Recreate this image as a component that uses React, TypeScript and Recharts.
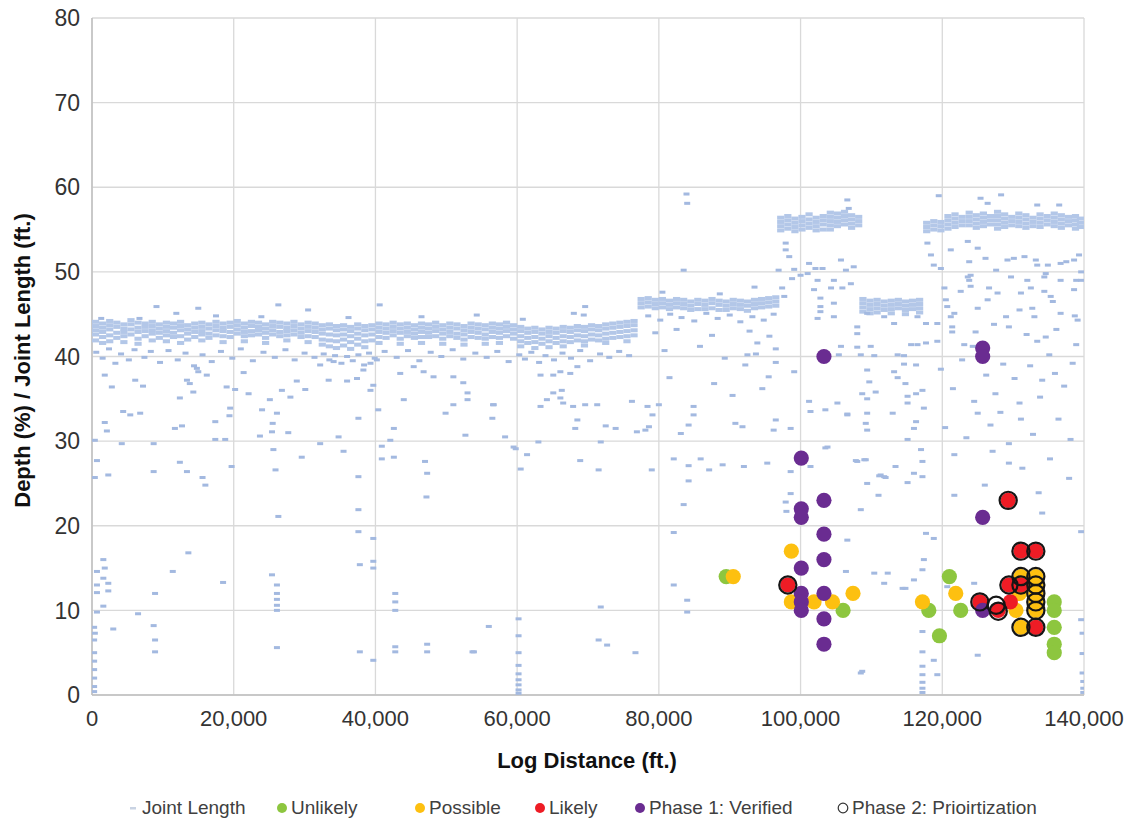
import React from 'react';
import { ScatterChart, Scatter, XAxis, YAxis, CartesianGrid, Legend } from 'recharts';

const X_TICKS = [0, 20000, 40000, 60000, 80000, 100000, 120000, 140000];
const Y_TICKS = [0, 10, 20, 30, 40, 50, 60, 70, 80];
const SERIES = ['Joint Length', 'Unlikely', 'Possible', 'Likely', 'Phase 1: Verified', 'Phase 2: Prioirtization'];
const X_TITLE = 'Log Distance (ft.)';
const Y_TITLE = 'Depth (%) / Joint Length (ft.)';

// Joint length dense bands: [log distance (kft), joint lengths]
const band1: [number, number[]][] = [
  [0.5,[44.1,43.6,43.1,42.6,41.9]],[1.5,[43.9,43.4,42.9,42.3,41.6]],[2.5,[44.2,43.7,43.2,42.5,41.8]],[3.5,[44.0,43.5,42.8,42.2]],
  [4.5,[43.8,43.3,42.9,42.4,41.7]],[5.5,[44.3,43.8,43.2,42.6]],[6.5,[44.0,43.4,42.9,42.1,41.5]],[7.5,[43.9,43.5,43.0,42.4]],
  [8.5,[44.1,43.6,43.1,42.7,41.9]],[9.5,[43.8,43.3,42.8,42.2]],[10.5,[44.0,43.5,43.0,42.5,41.8]],[11.5,[43.9,43.4,42.8,42.3]],
  [12.5,[44.1,43.6,43.1,42.4,41.6]],[13.5,[43.7,43.2,42.7,42.0]],[14.5,[43.9,43.4,42.9,42.3]],[15.5,[44.0,43.5,43.0,42.6,41.9]],
  [16.5,[43.8,43.3,42.7,42.2]],[17.5,[44.1,43.6,43.1,42.5]],[18.5,[43.9,43.4,43.0,42.4,41.7]],[19.5,[44.0,43.5,42.9,42.3]],
  [20.5,[44.2,43.7,43.2,42.7]],[21.5,[43.9,43.4,42.9,42.4,41.8]],[22.5,[44.1,43.6,43.0,42.5]],[23.5,[44.0,43.5,43.1,42.6]],
  [24.5,[43.8,43.3,42.8,42.2,41.6]],[25.5,[44.1,43.6,43.1,42.6]],[26.5,[44.0,43.5,42.9,42.4]],[27.5,[43.9,43.4,43.0,42.5,41.9]],
  [28.5,[44.1,43.6,43.1,42.6]],[29.5,[43.8,43.3,42.8,42.3]],[30.5,[44.0,43.5,43.0,42.4,41.7]],[31.5,[43.9,43.4,42.9,42.3]],
  [32.5,[43.7,43.2,42.7,42.0,41.4]],[33.5,[43.8,43.3,42.6,41.9,41.2]],[34.5,[43.6,43.1,42.5,41.8,41.0]],[35.5,[43.7,43.2,42.6,42.0,41.3]],
  [36.5,[43.5,43.0,42.4,41.7,40.9]],[37.5,[43.8,43.3,42.7,42.1,41.4]],[38.5,[43.6,43.1,42.5,41.8,41.1]],[39.5,[43.7,43.2,42.6,41.9]],
  [40.5,[43.9,43.4,42.9,42.3,41.6]],[41.5,[43.8,43.3,42.8,42.2]],[42.5,[44.0,43.5,43.0,42.5]],[43.5,[43.8,43.3,42.8,42.1,41.5]],
  [44.5,[43.9,43.4,42.9,42.4]],[45.5,[43.7,43.2,42.7,42.2]],[46.5,[43.9,43.4,42.9,42.3,41.6]],[47.5,[43.8,43.3,42.8,42.3]],
  [48.5,[44.0,43.5,43.0,42.4]],[49.5,[43.7,43.2,42.7,42.1,41.5]],[50.5,[43.9,43.4,42.9,42.4]],[51.5,[43.8,43.3,42.7,42.2]],
  [52.5,[43.6,43.1,42.6,42.0,41.4]],[53.5,[43.9,43.4,42.9,42.3]],[54.5,[43.8,43.3,42.8,42.2]],[55.5,[43.7,43.2,42.6,42.1,41.5]],
  [56.5,[43.9,43.4,42.9,42.3]],[57.5,[43.8,43.3,42.8,42.2,41.6]],[58.5,[44.0,43.5,43.0,42.4]],[59.5,[43.7,43.2,42.7,42.1]],
  [60.5,[43.5,43.0,42.4,41.8,41.2]],[61.5,[43.3,42.8,42.2,41.6]],[62.5,[43.4,42.9,42.3,41.7,41.0]],[63.5,[43.2,42.7,42.1,41.5]],
  [64.5,[43.4,42.9,42.4,41.8,41.1]],[65.5,[43.3,42.8,42.2,41.6]],[66.5,[43.5,43.0,42.4,41.8,41.2]],[67.5,[43.4,42.9,42.3,41.7]],
  [68.5,[43.6,43.1,42.5,41.9]],[69.5,[43.5,43.0,42.4,41.8,41.3]],[70.5,[43.7,43.2,42.6,42.0]],[71.5,[43.6,43.1,42.5,41.9]],
  [72.5,[43.8,43.3,42.7,42.1,41.6]],[73.5,[43.9,43.4,42.8,42.2]],[74.5,[44.0,43.5,42.9,42.3]],[75.5,[44.1,43.6,43.0,42.4,41.8]],
  [76.5,[44.2,43.7,43.1,42.5]],
];
const band2: [number, number[]][] = [
  [77.5,[46.8,46.3,45.8]],[78.5,[46.9,46.4,45.9]],[79.5,[46.7,46.2,45.7]],[80.5,[46.8,46.3,45.8]],[81.5,[46.6,46.1,45.6]],
  [82.5,[46.8,46.3,45.8]],[83.5,[46.7,46.2,45.7]],[84.5,[46.5,46.0,45.5]],[85.5,[46.7,46.2,45.6]],[86.5,[46.6,46.1,45.6]],
  [87.5,[46.8,46.3,45.7]],[88.5,[46.6,46.1,45.5]],[89.5,[46.5,46.0,45.5]],[90.5,[46.7,46.2,45.7]],[91.5,[46.6,46.1,45.6]],
  [92.5,[46.5,46.0,45.4]],[93.5,[46.7,46.2,45.7]],[94.5,[46.8,46.3,45.8]],[95.5,[46.9,46.4,45.9]],[96.5,[47.0,46.5,46.0]],
];
const band3: [number, number[]][] = [
  [97.2,[56.4,55.9,55.4,54.9]],[98.2,[56.6,56.1,55.6,55.1]],[99.2,[56.3,55.8,55.3,54.8]],[100.2,[56.5,56.0,55.5,55.0]],
  [101.2,[56.8,56.2,55.7,55.2]],[102.2,[56.4,55.9,55.4,54.9]],[103.2,[56.6,56.1,55.6,55.0]],[104.2,[57.0,56.5,56.0,55.5,55.0]],
  [105.2,[56.9,56.4,55.9,55.4]],[106.2,[57.1,56.6,56.1,55.6]],[107.2,[56.7,56.2,55.7,55.2]],[108.2,[56.5,56.0,55.5]],
];
const band4: [number, number[]][] = [
  [108.8,[46.8,46.3,45.8,45.3]],[109.8,[46.6,46.1,45.6,45.1]],[110.8,[46.7,46.2,45.7,45.2]],[111.8,[46.5,46.0,45.5]],
  [112.8,[46.6,46.1,45.6,45.1]],[113.8,[46.7,46.2,45.7]],[114.8,[46.5,46.0,45.5,45.0]],[115.8,[46.6,46.1,45.6]],
  [116.8,[46.7,46.2,45.7,45.2]],
];
const band5: [number, number[]][] = [
  [117.8,[55.8,55.3,54.8]],[118.8,[56.0,55.5,55.0]],[119.8,[55.9,55.4,54.9]],[120.8,[56.6,56.1,55.6,55.1]],
  [121.8,[56.8,56.3,55.8,55.3]],[122.8,[56.5,56.0,55.5]],[123.8,[57.0,56.5,56.0,55.5]],[124.8,[56.7,56.2,55.7,55.2]],
  [125.8,[56.9,56.4,55.9,55.4]],[126.8,[56.6,56.1,55.6]],[127.8,[57.1,56.6,56.1,55.6,55.1]],[128.8,[56.8,56.3,55.8,55.3]],
  [129.8,[56.5,56.0,55.5]],[130.8,[56.9,56.4,55.9,55.4]],[131.8,[56.7,56.2,55.7,55.2]],[132.8,[56.4,55.9,55.4]],
  [133.8,[56.8,56.3,55.8,55.3]],[134.8,[56.6,56.1,55.6]],[135.8,[56.9,56.4,55.9,55.4]],[136.8,[56.7,56.2,55.7,55.2]],
  [137.8,[56.5,56.0,55.5]],[138.8,[56.6,56.1,55.6,55.1]],[139.5,[56.3,55.8,55.3]],
];

// Scattered joint lengths: [kft, ft]
const jointScatter: [number, number][] = [
  [1.3,44.5],[6.7,44.5],[9.1,45.9],[11.9,45.1],[15,45.7],[23.9,44.7],[26.3,46.1],[30.5,45.5],[40.6,46.1],[54.3,44.9],[68,45.1],[69.4,44.9],[69.6,45.9],[17.5,44.8],[36.2,44.6],[46.5,44.7],[60.8,44.4],
  [0.6,40.5],[1.5,39.8],[2.4,40.9],[3.3,39.2],[4.1,40.3],[5.2,39.6],[6.0,40.8],[7.4,39.9],[8.3,40.6],[9.6,39.3],[10.8,40.7],[12.1,39.6],[13.2,40.4],[14.4,38.9],[15.6,40.2],[16.9,39.4],[18.2,40.6],[19.8,39.8],[21.0,40.9],[22.7,39.5],[24.2,40.5],[25.8,39.9],[27.3,40.8],[28.6,39.6],[30.0,40.4],[31.4,39.9],[32.7,40.3],[33.5,39.6],[34.3,40.1],[35.2,39.2],[36.0,40.0],[36.8,39.5],[37.6,40.2],[38.4,39.0],[39.1,40.4],[39.9,39.8],[41.3,40.6],[43.0,39.9],[44.6,40.7],[46.2,39.5],[47.8,40.5],[49.3,40.0],[50.9,40.8],[52.4,39.7],[54.1,40.4],[55.7,39.9],[57.2,40.6],[58.8,39.4],[60.3,40.2],[61.1,39.7],[62.0,40.5],[63.1,39.3],[64.0,40.1],[65.2,39.6],[66.4,40.4],[67.6,39.8],[68.9,40.7],[70.3,39.5],[71.7,40.3],[73.0,39.9],[74.4,40.6],[75.8,40.1],
  [1.8,37.8],[2.8,36.4],[6.1,37.2],[7.2,36.5],[13.4,37.2],[13.8,36.8],[14.8,38.6],[15,38.2],[16.2,37.8],[19,36.4],[20.2,36.1],[21.4,38.1],[26.8,36],[30.1,36.1],[28.9,37.1],[32.2,39],[33.4,37.2],[34.1,39.4],[36,37.1],[37.4,37.4],[38.3,38.4],[39.3,39.2],[40.2,39.6],[39.7,36.6],[39.3,36],[43.5,38],[45.4,38.8],[46.8,38.2],[48.2,37.6],[51,37.6],[52.4,36.9],[53,35.7],[63.3,37.8],[65.1,37.8],[66.1,38.2],[67.5,38],[68.5,38.8],[65.1,35.7],[66.3,36],
  [4.4,33.5],[5.4,33.1],[6.8,33.3],[1.8,32.2],[2.1,31.2],[11.7,31.5],[12.7,31.8],[12.4,35.1],[14.3,35.8],[17.4,32.3],[19.5,33.9],[19.4,33],[22.1,35.6],[25.1,34.9],[28,35.2],[24,33.7],[26.1,33.3],[25.5,32.1],[25.4,31.1],[27.7,31],[23.7,30.6],[34.8,30.5],[37.6,32.7],[40.4,33.7],[42.6,31.5],[42.1,30.1],[44,34.9],[49.9,33.3],[51,34.3],[53,34.9],[56.5,32.7],[56.6,34.3],[52.7,30.7],[58.3,30.5],[63.3,34.1],[64.2,34.9],[66.1,35.1],[66.5,34.5],[67.9,34.1],[68.5,32.5],[56.7,34.3],[69.6,34.3],[71.3,34.3],[76.2,34.7],[68.2,31.5],[72.5,31.8],[73.9,31.5],[76.9,31.1],[0.4,30.1],[4.2,29.7],[8.7,29.7],[17.4,30.2],[18.8,30.2],[32.2,29.7],
  [0.7,27.7],[2.3,26],[0.4,25.7],[8.7,26.4],[12.4,27.5],[13.4,26.4],[15.6,25.7],[16,24.8],[19.7,27],[25.6,29],[25.9,26.6],[26.3,21.1],[29.6,28.1],[35.5,28.8],[37.6,25.8],[37.6,21.9],[40.9,27.9],[42.6,28.1],[40.9,29.4],[47,27.6],[47.3,26.2],[47.2,23.4],[59.5,29.3],[61.4,28.4],[60.5,26.7],[59.8,29.1],[63,29.9],[71.8,29.9],[68.9,27.7],[71.5,26.6],
  [37.6,19.3],[39.7,18.5],[13.6,16.8],[1.6,16],[1.8,15],[0.7,14.6],[1.6,13.8],[2.3,13.2],[0.7,13],[2.3,12.3],[0.7,12.1],[1.6,10.5],[0.7,9.8],[6.5,9.6],[3,7.8],[0.4,7.3],[8.7,8.2],[8.9,6.5],[8.9,5.1],[11.4,14.6],[18.5,13.3],[8.9,12],[25.4,14.2],[26.1,13],[26.1,12],[26.1,11.3],[26.1,10.6],[26.1,10],[26.1,5.6],[37.8,15.4],[39.7,15.8],[39.7,15],[37.8,5.1],[42.8,12],[42.8,11],[42.8,10],[42.8,5.7],[42.8,5.1],[47.3,5.1],[47.3,6],[53.9,5.1],[39.7,4.1],
  [0.3,8],[0.3,6.5],[0.3,5],[0.3,4],[0.3,3],[0.3,2],[0.3,1],[0.3,0.4],[60.2,9],[60.2,7],[60.2,5],[60.2,3.5],[60.2,2.5],[60.2,1.8],[60.2,1.2],[60.2,0.6],[60.2,0.2],[56,8.1],[53.7,5.1],[71.5,6.5],[72.7,5.9],[76.7,5],[71.8,10.4],
  [83.9,59.2],[84,58.1],[83.5,50.2],[78.4,34.1],[79.1,33.1],[80,34.3],[84.9,34.1],[84.9,33.1],[84.2,31.9],[83.1,30.9],[90.8,32.1],[91.8,31.7],[96.2,31.3],[96.5,32.5],[78.1,31.3],[78.6,31.7],[79,26.6],[82.1,27.9],[84.2,27.1],[85.9,27.9],[87.1,26.6],[89,27.2],[92,27],[95.3,27.4],[84.2,25.3],[83.5,22.5],[82.1,19.2],[84,9.8],[84,11.2],[82.1,13],[93.9,41.6],[96.5,40.9],[92.5,40.2],[93.7,40.3],[96.5,39.3],[95.5,37.6],[92.2,39],
  [78.5,44.8],[80.2,44.3],[81.6,45.0],[83.2,44.6],[85.0,44.2],[86.7,45.1],[88.3,44.5],[90.0,44.9],[91.5,44.1],[93.2,44.7],[94.8,44.3],[96.2,45.0],[79.5,42.8],[82.5,43.2],[87.5,42.5],[92.8,43.0],[95.6,42.4],[80.8,40.7],[85.8,41.2],[89.3,39.8],[81.5,37.5],[87.8,36.8],[90.4,35.4],[94.6,36.2],[80.5,47.6],[88.6,47.4],[93.5,48.2],
  [98.6,26.4],[98.6,23.8],[97.9,22.8],[98,21.7],[108.5,21.9],[109.4,25],[111.8,25.8],[111,23.6],[103.8,29.3],[101.4,27],[108,27.6],[113.4,27],[106.4,14.6],[110.4,14.4],[111.8,13.2],[108.5,2.6],[98.6,31.5],[101.4,33.5],[103.5,33.7],[106.6,33.1],[109.4,33.3],[109.2,32.1],[109.4,31.3],[113,33.3],[109,27.8],[111.3,26],
  [106.6,58.5],[106.8,57.5],[97.9,52.6],[96.9,50.2],[99.1,50.3],[101.2,51],[102.1,50.4],[103.1,50.4],[105.7,51.4],[106.4,50.2],[107.5,50.6],[98.8,49.2],[97.4,48.1],[97.7,47.1],[100,49.6],[101,49.8],[102.4,49],[104.7,49],[104.3,48.1],[105.9,48.1],[107.1,48.6],[102.8,45.9],[104.7,46.3],[102.8,45.3],[102.4,44.5],[104.7,44.7],[108,43.5],[108,42.7],[101.9,47.9],[102.8,46.9],[97.9,53.4],[98.4,51.8],
  [109.4,45.1],[111.8,44.7],[113.2,43.9],[116.5,44.7],[117.7,43.9],[119.3,43.9],
  [105.7,41.2],[108,41.1],[109.9,41.2],[105.4,40.2],[108.5,40.2],[110.4,40.1],[113.7,40.2],[114.6,40.1],[115.6,41.4],[116.5,41.4],[117.7,41.6],[119.3,41.8],[109.4,38.4],[113.2,38.2],[114.6,39.1],[116.3,39],[109.7,37],[113.7,37.5],[114.8,36.8],[117.2,36],[108.7,35.6],[109.4,35],[110.6,35.8],[115.1,35.3],[116.3,35.6],[115.1,34.5],[117.4,33.9],[116.3,32.3],[116,31.5],[105.2,34.5],[106.6,33.2],[101.2,34.7],[115.1,30.2],[103.5,29.2],[107.8,27.7],[109.2,27.8],[116,26.2],[117.2,25.8],[115.1,25.1],[117,29],[117.2,27.6],[111.1,25.9],[112,25.7],[99.1,38.2],
  [112.3,14.4],[114.4,12.6],[114.8,12.6],[117.4,16],[117.2,14.8],[116,13.6],[106.6,18.3],[117.7,19.1],[118.8,18.5],[117.2,7.5],[117.2,5.1],[118.8,4.1],[117.2,2.4],[117.2,3.4],[117.2,1.5],[117.2,0.8],[117.2,0.3],[119.3,2.4],[108.7,2.8],
  [119.5,59],[125.4,58.7],[128.3,59.1],[126.4,58.1],[133.4,57.9],[136.5,57.9],[117.9,53.4],[118.4,52],[118.8,50.8],[119.8,50.4],[121.2,52.6],[120.3,48.1],[120.5,46.7],[120.7,45.9],[121.2,44.7],[121.4,43.5],[123.6,53.6],[123.8,51.2],[124,49.6],[125,52.8],[126.1,51.6],[127.6,50.2],[129.2,51.4],[130.1,51.6],[131.6,51.8],[133.2,51.4],[133.4,50.8],[134.6,49.8],[134.9,50.8],[136.7,51],[137.5,51.2],[138.6,51.4],[139.3,52],[139.6,50],[123.6,49.4],[123.8,49],[126.6,48.1],[129.7,49.4],[132,49],[134.4,49.4],[136.7,49],[138.9,49],[139.6,49],[122.6,47.7],[124,48.3],[127.8,47.5],[131.1,47.5],[132.5,48.1],[134.4,47.7],[135.3,47.1],[138.6,47.9],[121.7,45.1],[125,45.7],[126.4,46.7],[129,44.7],[130.9,45.5],[132.7,45.7],[135.6,46.5],[136.7,45.1],[139.1,44.3],[121.4,42.9],[124.7,42.9],[129.4,43.5],[133,44.7],[134.6,42.3],
  [123.1,41.4],[124.3,41.2],[125.4,40.4],[133.4,41.8],[135.1,40.2],[138.9,41.4],[124.5,34.7],[125,33.3],[130.9,34.5],[131.1,32.6],[129.4,29.7],[129.4,27.4],[131.3,26.8],[134.1,37.2],[134.1,21.5],[121.7,28.4],[121.7,23.6],
  [120.7,12.8],[124.5,13.2],[139.6,19.3],[125,4.7],[139.6,8.9],[139.8,7.3],[139.8,4.9],[139.8,2.6],[139.9,1.6],[139.9,0.8],[139.9,0.3],
  [119.8,38.5],[121.5,36.2],[122.8,39.6],[126.2,37.8],[127.5,35.6],[128.6,39.1],[130.2,37.4],[132.4,38.9],[133.8,35.2],[135.9,38.0],[137.2,36.5],[138.4,39.2],[120.4,31.6],[123.4,30.4],[126.8,31.9],[128.2,33.4],[132.8,30.8],[136.4,32.6],[138.1,30.2],[127.1,28.8],[135.2,27.9],[137.9,25.6],[126.0,24.8],[133.6,23.9],[138.7,44.8],[127.3,43.8],[131.9,42.6],[136.1,43.2],
];

// Anomaly classifications: [kft, depth %]
const unlikely: [number, number][] = [[89.5,14],[106,10],[118.1,10],[119.6,7],[121,14],[122.6,10],[135.8,11],[135.8,10],[135.8,8],[135.8,6],[135.8,5]];
const possible: [number, number][] = [[90.5,14],[98.7,17],[98.7,11],[101.9,11],[104.5,11],[107.4,12],[117.2,11],[121.9,12],[130.4,10],[130.9,12],[131.1,14],[131.1,8],[133.2,14],[133.2,13],[133.2,12],[133.2,11],[133.2,10]];
const likely: [number, number][] = [[98.2,13],[125.3,11],[127.9,10],[129.3,23],[129.4,13],[129.6,11],[131.1,17],[133.2,17],[131.1,13],[133.2,8]];
const phase1: [number, number][] = [[100.1,28],[100.1,22],[100.1,21],[100.1,15],[100.1,12],[100.1,11],[100.1,10],[103.3,40],[103.3,23],[103.3,19],[103.3,16],[103.3,12],[103.3,9],[103.3,6],[125.7,41],[125.7,40],[125.7,21],[125.7,10]];
const phase2: [number, number][] = [[98.2,13],[125.3,11],[127.6,10.6],[127.9,9.9],[129.3,23],[129.4,13],[131.1,17],[133.2,17],[131.1,14],[133.2,14],[131.1,13],[133.2,13],[133.2,12],[133.2,11],[133.2,10],[131.1,8],[133.2,8]];

const COLORS = { band: '#b3c7e8', joint: '#a3b9e0', unlikely: '#8dc63f', possible: '#fdc010', likely: '#ee1c25', phase1: '#6a2c91', ring: '#151515' };
const FONT = '"Liberation Sans", Arial, sans-serif';
// legend icon centres along the bottom row (layout only)
const LEGEND_X = [133, 282, 420, 540, 640, 843];

const pts = (arr: [number, number][]) => arr.map(([k, y]) => ({ x: k * 1000, y }));
const cols = (arr: [number, number[]][]) => arr.flatMap(([k, ys]) => ys.map((y) => ({ x: k * 1000, y, dense: 1 })));
const jointData = [...cols(band1), ...cols(band2), ...cols(band3), ...cols(band4), ...cols(band5), ...pts(jointScatter)];

const Dash = (p: any) => {
  const dense = (p.payload && p.payload.dense) || p.dense;
  return dense
    ? <rect x={p.cx - 3.6} y={p.cy - 2} width={7.2} height={4} fill={COLORS.band} />
    : <rect x={p.cx - 3} y={p.cy - 1.5} width={6} height={3} fill={COLORS.joint} />;
};
const dot = (color: string) => (p: any) => <circle cx={p.cx} cy={p.cy} r={7.6} fill={color} />;
const Ring = (p: any) => <circle cx={p.cx} cy={p.cy} r={8.6} fill="none" stroke={COLORS.ring} strokeWidth={2.2} />;

const legendIcons = [
  <svg width="12" height="12" key="a"><rect x="3" y="5" width="6" height="2.5" fill="#c9d3e3" /></svg>,
  <svg width="12" height="12" key="b"><circle cx="6" cy="6" r="5" fill={COLORS.unlikely} /></svg>,
  <svg width="12" height="12" key="c"><circle cx="6" cy="6" r="5" fill={COLORS.possible} /></svg>,
  <svg width="12" height="12" key="d"><circle cx="6" cy="6" r="5" fill={COLORS.likely} /></svg>,
  <svg width="12" height="12" key="e"><circle cx="6" cy="6" r="5" fill={COLORS.phase1} /></svg>,
  <svg width="12" height="12" key="f"><circle cx="6" cy="6" r="4.8" fill="none" stroke="#333" strokeWidth="1.2" /></svg>,
];

const LegendContent = () => (
  <div style={{ position: 'relative', width: 1128, height: 24, fontFamily: FONT, fontSize: 19, color: '#404040' }}>
    {SERIES.map((name, i) => (
      <div key={name} style={{ position: 'absolute', left: LEGEND_X[i] - 6, top: 0, height: 24, display: 'flex', alignItems: 'center', gap: 3, whiteSpace: 'nowrap' }}>
        {legendIcons[i]}
        <span>{name}</span>
      </div>
    ))}
  </div>
);

const YTitle = (props: any) => {
  const vb = props.viewBox;
  const cx = vb.x - 10;
  const cy = vb.y + vb.height / 2 + 4;
  return (
    <text x={cx} y={cy} transform={`rotate(-90 ${cx} ${cy})`} textAnchor="middle" dominantBaseline="central" fontFamily={FONT} fontSize={22} fontWeight="bold" fill="#111">
      {Y_TITLE}
    </text>
  );
};
const XTitle = (props: any) => {
  const vb = props.viewBox;
  return (
    <text x={vb.x + vb.width / 2 - 1} y={vb.y + 65} textAnchor="middle" dominantBaseline="central" fontFamily={FONT} fontSize={22} fontWeight="bold" fill="#111">
      {X_TITLE}
    </text>
  );
};

export default function App() {
  return (
    <div style={{ position: 'absolute', left: 0, top: 0, width: 1128, height: 823, background: '#fff', overflow: 'hidden' }}>
      <ScatterChart width={1128} height={823} margin={{ top: 18, right: 44, left: 32, bottom: 88 }}>
        <CartesianGrid stroke="#d9d9d9" strokeWidth={1.3} />
        <XAxis
          type="number" dataKey="x" domain={[0, 140000]} ticks={X_TICKS} interval={0}
          tickFormatter={(v: number) => v.toLocaleString('en-US')}
          tickLine={false} tickSize={6} tickMargin={9} height={40}
          axisLine={{ stroke: '#bfbfbf', strokeWidth: 1.5 }}
          tick={{ fontFamily: FONT, fontSize: 22, fill: '#333' }}
          label={<XTitle />}
          allowDataOverflow
        />
        <YAxis
          type="number" dataKey="y" domain={[0, 80]} ticks={Y_TICKS} interval={0}
          tickLine={false} tickSize={6} tickMargin={6} width={60}
          axisLine={{ stroke: '#bfbfbf', strokeWidth: 1.5 }}
          tick={{ fontFamily: FONT, fontSize: 23, fill: '#333' }}
          label={<YTitle />}
          allowDataOverflow
        />
        <Legend verticalAlign="middle" align="center" layout="horizontal" content={<LegendContent />} wrapperStyle={{ top: 796, left: 0, width: 1128 }} />
        <Scatter name={SERIES[0]} data={jointData} shape={Dash} isAnimationActive={false} />
        <Scatter name={SERIES[1]} data={pts(unlikely)} shape={dot(COLORS.unlikely)} isAnimationActive={false} />
        <Scatter name={SERIES[2]} data={pts(possible)} shape={dot(COLORS.possible)} isAnimationActive={false} />
        <Scatter name={SERIES[3]} data={pts(likely)} shape={dot(COLORS.likely)} isAnimationActive={false} />
        <Scatter name={SERIES[4]} data={pts(phase1)} shape={dot(COLORS.phase1)} isAnimationActive={false} />
        <Scatter name={SERIES[5]} data={pts(phase2)} shape={Ring} isAnimationActive={false} />
      </ScatterChart>
    </div>
  );
}
